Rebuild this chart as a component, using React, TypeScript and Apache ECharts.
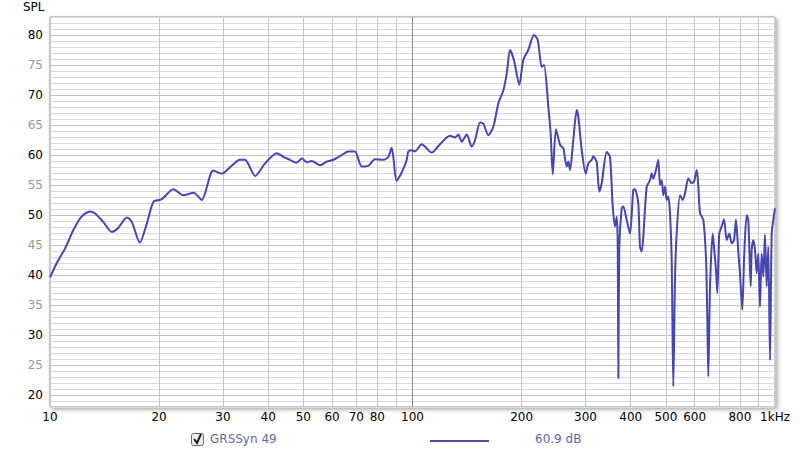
import React, { useEffect, useRef } from "react";
import * as echarts from "echarts";

// Frequency (Hz) of each sample point
const freqs: number[] = [
  10, 10.44, 11.0, 11.6, 12.2, 12.9, 13.3, 14.0, 14.8, 15.4, 16.3, 16.8, 17.7, 18.5, 19.3, 20.3,
  21.9, 23.3, 24.9, 26.2, 28.2, 29.8, 31.7, 33.4, 34.5, 36.8, 39.2, 42.2, 44.0, 45.9, 47.9, 49.5,
  51.1, 52.7, 55.6, 58.0, 60.5, 63.1, 66.5, 69.4, 72.4, 75.5, 78.8, 83.1, 85.8, 87.6, 88.5, 90.4,
  93.4, 96.4, 97.4, 99.5, 101.6, 106.0, 113.0, 119.1, 126.9, 131.0, 133.8, 136.7, 141.1, 145.7,
  148.8, 153.6, 156.8, 161.9, 167.1, 172.5, 178.1, 182.0, 185.8, 190.5, 197.0, 202.1, 208.6,
  216.3, 221.5, 227.2, 230.6, 236.9, 240.5, 243.7, 248.8, 255.3, 260.6, 266.3, 269.0, 272.0,
  277.7, 283.8, 286.7, 293.0, 300.5, 305.5, 312.2, 315.4, 318.8, 322.2, 327.6, 332.6, 343.4,
  350.6, 356.7, 362.0, 365.9, 368.2, 369.7, 371.9, 377.6, 381.5, 389.8, 398.1, 406.5, 410.9,
  419.6, 424.2, 428.8, 433.2, 442.7, 452.1, 457.0, 461.6, 469.6, 476.5, 481.7, 486.9, 491.9,
  497.3, 502.6, 507.8, 513.3, 518.8, 524.1, 529.8, 535.5, 546.9, 556.3, 564.5, 576.7, 589.3,
  598.0, 608.3, 614.5, 621.2, 634.3, 645.4, 650.6, 654.6, 661.8, 673.1, 678.8, 687.4, 693.1,
  701.9, 712.8, 723.3, 735.8, 747.9, 759.5, 770.6, 780.5, 792.0, 800.5, 812.3, 822.6, 835.3,
  843.8, 857.0, 862.4, 871.2, 880.7, 890.2, 899.3, 909.0, 918.7, 928.2, 938.3, 948.4, 958.2,
  968.7, 979.1, 989.2, 1000,
];

// SPL (dB) at each frequency
const spl: number[] = [
  39.6, 42.0, 44.4, 47.5, 49.7, 50.6, 50.3, 48.9, 47.2, 47.8, 49.6, 48.9, 45.4, 48.6, 52.2, 52.6,
  54.3, 53.3, 53.7, 52.5, 57.4, 56.9, 58.2, 59.2, 59.2, 56.5, 58.6, 60.3, 59.7, 59.2, 58.7, 59.4,
  58.8, 59.0, 58.3, 58.9, 59.2, 59.8, 60.6, 60.6, 58.1, 58.2, 59.3, 59.2, 59.7, 61.2, 59.7, 55.7,
  57.1, 59.2, 60.6, 60.8, 60.6, 61.8, 60.4, 61.8, 63.2, 62.9, 63.4, 62.2, 63.4, 61.4,
  62.5, 65.4, 65.2, 63.3, 64.7, 68.6, 70.8, 73.6, 77.5, 75.8, 71.7, 75.8, 77.5,
  80.0, 79.2, 74.7, 75.0, 68.1, 63.6, 56.8, 64.3, 61.7, 61.1, 58.1, 58.9, 57.5,
  62.5, 67.5, 66.4, 60.8, 56.9, 58.6, 59.2, 59.8, 59.4, 58.9, 53.9, 55.3, 60.5,
  59.7, 51.4, 48.1, 49.7, 45.3, 22.8, 44.7, 51.1, 51.4, 49.2, 46.9, 54.2, 54.3,
  51.9, 44.7, 43.9, 46.4, 54.7, 55.8, 56.9, 56.1, 57.5, 59.2, 55.0, 55.8, 53.3,
  54.7, 52.5, 53.1, 50.3, 42.5, 21.4, 39.2, 46.9, 53.3, 52.5, 53.6, 56.1, 55.3,
  55.6, 57.5, 54.7, 50.3, 49.2, 42.5, 32.5, 23.1, 38.1, 46.9, 44.7, 40.8, 37.0,
  46.9, 48.1, 49.3, 45.8, 46.9, 45.3, 45.8, 49.2, 43.9, 40.3, 34.2, 43.6, 50.0,
  49.2, 38.1, 44.2, 45.8, 44.2, 40.3, 43.6, 34.7, 43.6, 39.7, 46.7, 38.1, 44.7,
  25.8, 46.9, 49.2, 51.1,
];

const gridFreqs: number[] = [10, 20, 30, 40, 50, 60, 70, 80, 90, 100, 200, 300, 400, 500, 600, 700, 800, 900, 1000];
const labelFreqs: number[] = [10, 20, 30, 40, 50, 60, 70, 80, 100, 200, 300, 400, 500, 600, 800, 1000];

const seriesName = "GRSSyn 49";
const legendValue = "60.9 dB";
const yName = "SPL";

const FONT = "DejaVu Sans";

export default function App() {
  const ref = useRef<HTMLDivElement>(null);
  useEffect(() => {
    if (!ref.current) return;
    const chart = echarts.init(ref.current, undefined, { renderer: "svg" });
    const data = freqs.map((f, i) => [Math.log10(f), spl[i]]);
    const minor = "#dadada";
    const major = "#c2c2c2";
    chart.setOption({
      animation: false,
      backgroundColor: "#fff",
      textStyle: { fontFamily: FONT },
      grid: {
        left: 50,
        right: 25,
        top: 17,
        bottom: 49,
        show: true,
        backgroundColor: "#fff",
        borderColor: "#9a9a9a",
        borderWidth: 1,
        shadowBlur: 4,
        shadowColor: "rgba(0,0,0,0.35)",
        shadowOffsetX: 2,
        shadowOffsetY: 2,
      },
      xAxis: {
        type: "value",
        min: 1,
        max: 3,
        axisLine: { show: false },
        axisTick: { show: false, customValues: gridFreqs.map((f) => Math.log10(f)) },
        axisLabel: {
          customValues: labelFreqs.map((f) => Math.log10(f)),
          formatter: (v: number) => {
            const f = Math.round(Math.pow(10, v));
            return f === 1000 ? "1kHz" : String(f);
          },
          color: "#000",
          fontSize: 12,
          fontFamily: FONT,
          margin: 4,
        },
        splitLine: {
          show: true,
          lineStyle: {
            color: gridFreqs.map((f) => (f === 100 ? "#8c8c8c" : "#c6c6c6")),
            width: 1,
          },
        },
      },
      yAxis: {
        type: "value",
        min: 18,
        max: 83,
        interval: 1,
        axisLine: { show: false },
        axisTick: { show: false },
        axisLabel: {
          formatter: (v: number) => (v % 5 === 0 ? String(v) : ""),
          color: (v: any) => (Number(v) % 10 === 0 ? "#000" : "#999"),
          fontSize: 12,
          fontFamily: FONT,
          margin: 7,
        },
        splitLine: {
          show: true,
          lineStyle: { color: [minor, minor, major, minor, minor], width: 1 },
        },
      },
      series: [
        {
          name: seriesName,
          type: "line",
          data,
          showSymbol: false,
          smooth: 0.25,
          lineStyle: { color: "#4545b5", width: 2 },
          itemStyle: { color: "#4545b5" },
        },
      ],
      graphic: [
        {
          type: "text",
          left: 23,
          top: 1,
          style: { text: yName, font: `12px '${FONT}'`, fill: "#000" },
        },
        {
          type: "rect",
          shape: { x: 191.5, y: 433.5, width: 12, height: 12, r: 2 },
          style: { fill: "#eeeeee", stroke: "#6a6a6a", lineWidth: 1 },
        },
        {
          type: "polyline",
          shape: { points: [[194, 439], [197, 443], [201, 434]] },
          style: { stroke: "#222", lineWidth: 2, fill: "none" },
        },
        {
          type: "text",
          left: 210,
          top: 433,
          style: { text: seriesName, font: `12px '${FONT}'`, fill: "#6565aa" },
        },
        {
          type: "line",
          shape: { x1: 430, y1: 441, x2: 489, y2: 441 },
          style: { stroke: "#4d4d95", lineWidth: 2 },
        },
        {
          type: "text",
          left: 535,
          top: 433,
          style: { text: legendValue, font: `12px '${FONT}'`, fill: "#6565aa" },
        },
      ],
    });
    return () => chart.dispose();
  }, []);
  return (
    <div
      ref={ref}
      style={{ position: "fixed", left: 0, top: 0, width: 800, height: 456 }}
    />
  );
}
